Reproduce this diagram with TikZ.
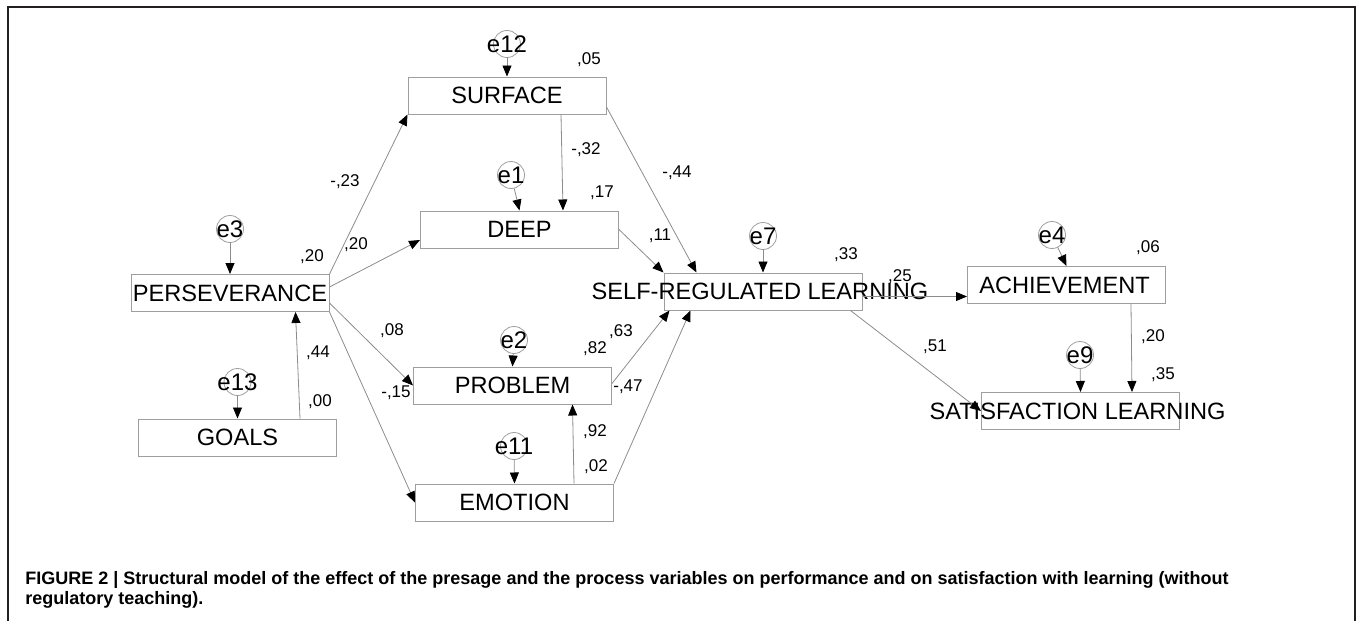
\documentclass[tikz,border=0pt]{standalone}
\usepackage{fontspec}
\setmainfont{Liberation Sans}
\usetikzlibrary{arrows.meta}

\definecolor{linegray}{gray}{0.55}
\definecolor{boxgray}{gray}{0.62}
\definecolor{framecol}{HTML}{231F20}

\tikzset{
  var/.style={draw=boxgray, line width=0.5pt, minimum width=99pt, minimum height=18.5pt, inner sep=0pt},
  err/.style={circle, draw=boxgray, line width=0.4pt, minimum size=13.5pt, inner sep=0pt},
  reg/.style={draw=linegray, line width=0.4pt, -{Triangle[length=5.5pt,width=4.5pt,color=black]}},
  coef/.style={font=\fontsize{8.5}{9}\selectfont, inner sep=0pt},
  every label/.style={font=\fontsize{11.8}{12}\selectfont, inner sep=0pt}
}

\begin{document}
\begin{tikzpicture}[x=0.5pt,y=-0.5pt]
  \useasboundingbox (0,0) rectangle (1362,621);

  % Frame round the figure
  \draw[framecol, line width=1pt] (8,621) -- (8,7) -- (1355,7) -- (1355,621);

  % Observed variables
  \node[var, label=center:SURFACE] (surface) at (507,95.5) {};
  \node[var, label=center:DEEP] (deep) at (519.5,229.5) {};
  \node[var, label=center:PERSEVERANCE] (pers) at (230,293) {};
  \node[var, label=center:GOALS] (goals) at (237.5,437.5) {};
  \node[var, label=center:PROBLEM] (problem) at (512.5,385.5) {};
  \node[var, label=center:EMOTION] (emotion) at (514.5,502.5) {};
  \node[var, label={[xshift=-1.5pt]center:SELF-REGULATED LEARNING}] (srl) at (763,291.5) {};
  \node[var, label={[xshift=-1pt]center:ACHIEVEMENT}] (ach) at (1066.5,285) {};
  \node[var, label={[xshift=-1.5pt]center:SATISFACTION LEARNING}] (sat) at (1080.5,411) {};

  % Error terms
  \node[err, label={[font=\fontsize{12}{12}\selectfont]center:e12}] (e12) at (507,44) {};
  \node[err, label={[font=\fontsize{12}{12}\selectfont]center:e1}] (e1) at (511,175) {};
  \node[err, label={[font=\fontsize{12}{12}\selectfont]center:e3}] (e3) at (230,229) {};
  \node[err, label={[font=\fontsize{12}{12}\selectfont]center:e13}] (e13) at (237.5,382) {};
  \node[err, label={[font=\fontsize{12}{12}\selectfont]center:e2}] (e2) at (514,340) {};
  \node[err, label={[font=\fontsize{12}{12}\selectfont]center:e11}] (e11) at (514,446) {};
  \node[err, label={[font=\fontsize{12}{12}\selectfont]center:e7}] (e7) at (763,236) {};
  \node[err, label={[font=\fontsize{12}{12}\selectfont]center:e4}] (e4) at (1052,235) {};
  \node[err, label={[font=\fontsize{12}{12}\selectfont]center:e9}] (e9) at (1080,355) {};

  \foreach \e/\v in {e12/surface, e1/deep, e3/pers, e13/goals, e2/problem,
                     e11/emotion, e7/srl, e4/ach, e9/sat}
    \draw[reg] (\e) -- (\v.north);

  % Regression paths
  \draw[reg] (pers.north east) -- (surface.south west);
  \draw[reg] ([yshift=3pt]pers.east) -- ([yshift=-5.25pt]deep.west);
  \draw[reg] ([yshift=-5pt]pers.east) -- (problem.west);
  \draw[reg] (pers.south east) -- (emotion.west);
  \draw[reg] ([xshift=-18.5pt]goals.north east) -- ([xshift=-17pt]pers.south east);
  \draw[reg] ([xshift=27pt]surface.south) -- ([xshift=21.75pt]deep.north);
  \draw[reg] ([yshift=-5.75pt]surface.east) -- ([xshift=16.5pt]srl.north west);
  \draw[reg] (deep.east) -- (srl.north west);
  \draw[reg] ([yshift=1pt]problem.east) -- ([xshift=3pt]srl.south west);
  \draw[reg] (emotion.north east) -- ([xshift=13.5pt]srl.south west);
  \draw[reg] ([xshift=29.75pt]emotion.north) -- ([xshift=30pt]problem.south);
  \draw[reg] ([yshift=-2.5pt]srl.east) -- ([yshift=-2.5pt]srl.east -| ach.west);
  \draw[reg] ([xshift=-6pt]srl.south east) -- (sat.west);
  \draw[reg] ([xshift=32.25pt]ach.south) -- ([xshift=25.75pt]sat.north);

  % Squared multiple correlations
  \node[coef] (rsurface) at (589,60) {,05};
  \node[coef] (rdeep) at (602,193) {,17};
  \node[coef] (rpers) at (312,257) {,20};
  \node[coef] (rgoals) at (320,402) {,00};
  \node[coef] (rproblem) at (595,349) {,82};
  \node[coef] (remotion) at (596,467) {,02};
  \node[coef] (rsrl) at (846,255) {,33};
  \node[coef] (rach) at (1148,248) {,06};
  \node[coef] (rsat) at (1163,375) {,35};

  % Path coefficients
  \node[coef] (wsurface) at (345,182) {-,23};
  \node[coef] (wdeep) at (356,245) {,20};
  \node[coef] (wsurfdeep) at (586,150) {-,32};
  \node[coef] (wsurfsrl) at (677,173) {-,44};
  \node[coef] (wdeepsrl) at (660,236) {,11};
  \node[coef] (wproblem) at (392,331) {,08};
  \node[coef] (wemotion) at (396,393) {-,15};
  \node[coef] (wgoals) at (318,353) {,44};
  \node[coef] (wprobsrl) at (621,332) {,63};
  \node[coef] (wemosrl) at (628,387) {-,47};
  \node[coef] (wemoprob) at (595,432) {,92};
  \node[coef] (wach) at (900,277) {,25};
  \node[coef] (wsat) at (935,347) {,51};
  \node[coef] (wachsat) at (1153,337) {,20};

  % Caption
  \node[anchor=north west, align=left, inner sep=0pt, font=\bfseries\fontsize{9}{10}\selectfont] (caption) at (25,571)
    {FIGURE 2 | Structural model of the effect of the presage and the process variables on performance and on satisfaction with learning (without\\
     regulatory teaching).};
\end{tikzpicture}
\end{document}
